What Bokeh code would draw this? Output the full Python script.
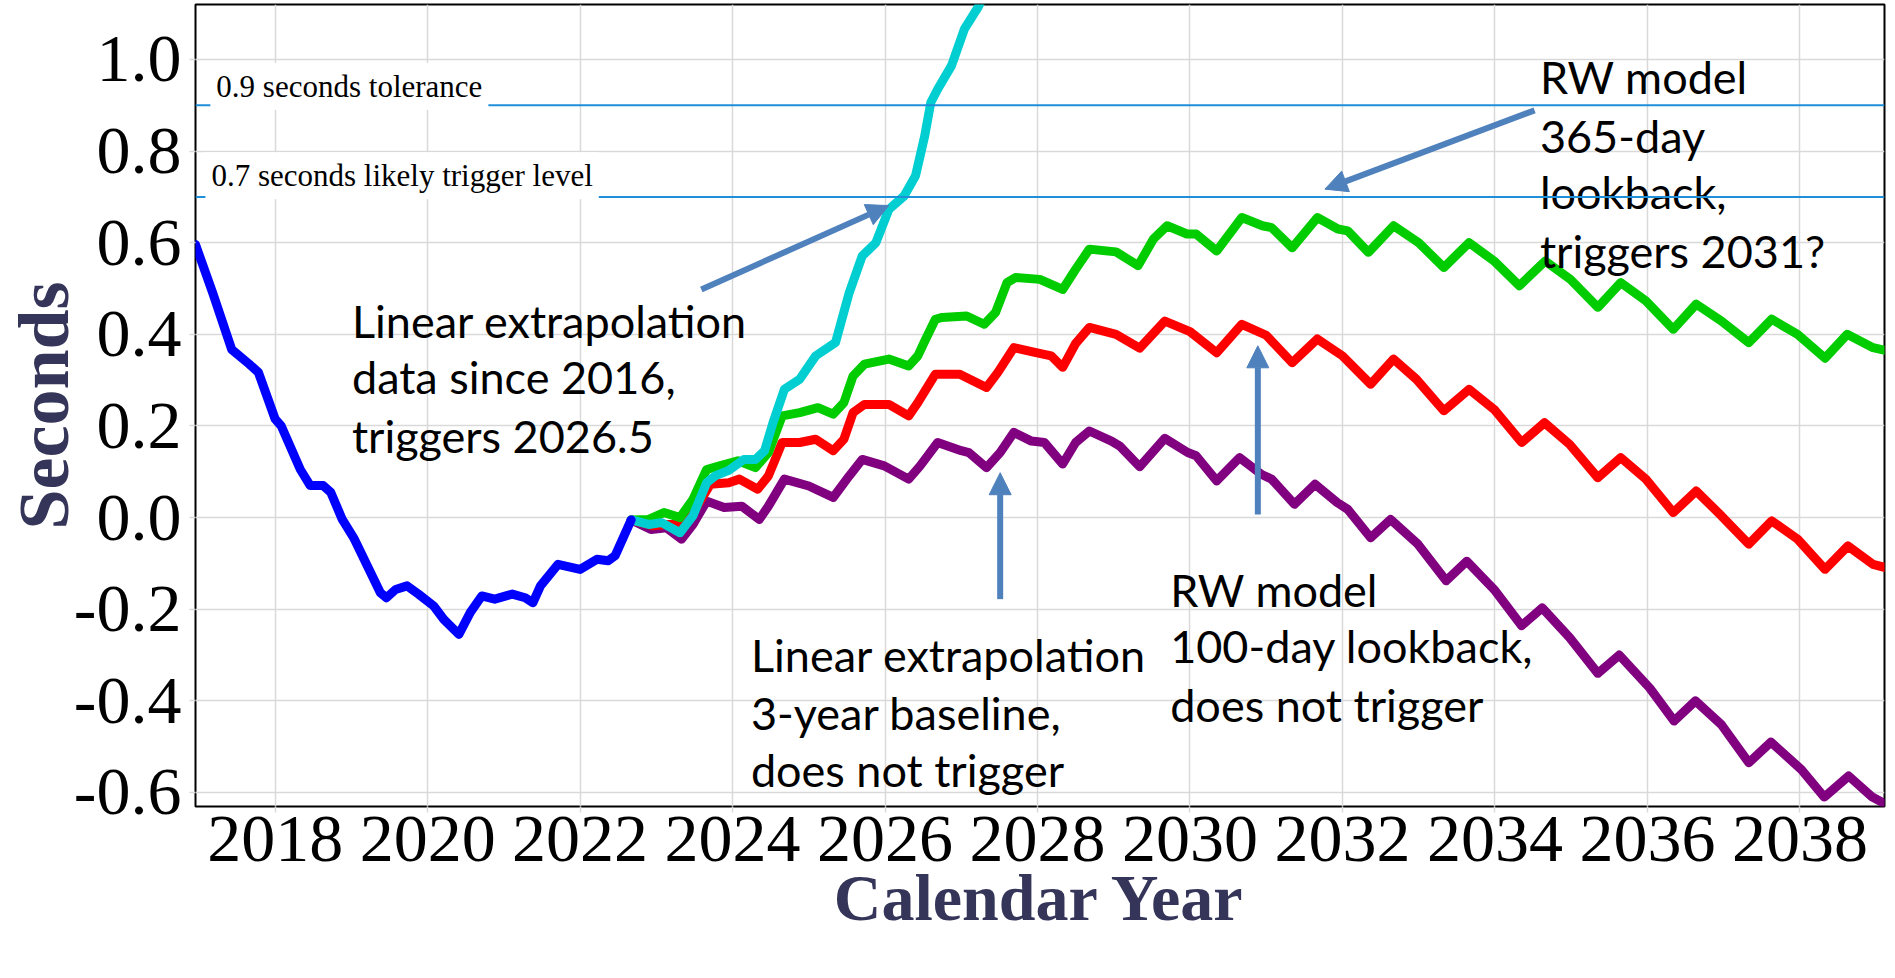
from bokeh.plotting import figure
from bokeh.models import Range1d, FixedTicker, PrintfTickFormatter, Span, Label, Arrow, NormalHead
from bokeh.core.properties import value
from bokeh.embed import file_html
from bokeh.resources import INLINE

# ---------------- data ----------------
obs_x = [2016.955, 2017.18, 2017.43, 2017.66, 2017.78, 2018.0, 2018.08, 2018.33, 2018.46, 2018.63,
         2018.73, 2018.88, 2019.03, 2019.38, 2019.46, 2019.58, 2019.73, 2019.88, 2020.08, 2020.21,
         2020.41, 2020.56, 2020.71, 2020.88, 2021.11, 2021.28, 2021.38, 2021.48, 2021.71, 2022.0,
         2022.22, 2022.37, 2022.46, 2022.67]
obs_y = [0.596, 0.491, 0.367, 0.335, 0.317, 0.215, 0.20, 0.105, 0.07, 0.07,
         0.055, -0.004, -0.044, -0.164, -0.175, -0.157, -0.149, -0.167, -0.193, -0.222,
         -0.255, -0.207, -0.171, -0.178, -0.167, -0.175, -0.186, -0.149, -0.102, -0.113,
         -0.091, -0.094, -0.083, -0.005]

lin16_x = [2022.67, 2022.90, 2023.07, 2023.31, 2023.48, 2023.66, 2023.77, 2023.95, 2024.15, 2024.30,
           2024.42, 2024.53, 2024.68, 2024.88, 2025.09, 2025.35, 2025.53, 2025.70, 2025.88, 2026.05,
           2026.25, 2026.40, 2026.52, 2026.60, 2026.69, 2026.87, 2027.04, 2027.22, 2027.30]
lin16_y = [-0.005, -0.015, -0.011, -0.033, 0.004, 0.076, 0.091, 0.103, 0.127, 0.127,
           0.146, 0.207, 0.28, 0.302, 0.353, 0.382, 0.491, 0.571, 0.600, 0.673,
           0.702, 0.746, 0.833, 0.906, 0.935, 0.986, 1.066, 1.114, 1.14]

rw365_x = [2022.67, 2022.90, 2023.10, 2023.31, 2023.48, 2023.66, 2023.83, 2024.07, 2024.30, 2024.47,
           2024.65, 2024.88, 2025.12, 2025.32, 2025.46, 2025.58, 2025.73, 2026.05, 2026.31, 2026.43,
           2026.52, 2026.66, 2026.75, 2027.07, 2027.30, 2027.45, 2027.60, 2027.71, 2028.03, 2028.33,
           2028.50, 2028.68, 2029.03, 2029.32, 2029.52, 2029.70, 2029.96, 2030.08, 2030.35, 2030.68,
           2030.95, 2031.07, 2031.34, 2031.67, 2031.94, 2032.07, 2032.34, 2032.67, 2033.0, 2033.33,
           2033.66, 2033.99, 2034.32, 2034.66, 2034.99, 2035.35, 2035.65, 2035.98, 2036.34, 2036.64,
           2036.97, 2037.33, 2037.63, 2037.97, 2038.33, 2038.62, 2038.96, 2039.12]
rw365_y = [-0.005, -0.004, 0.011, 0.0, 0.04, 0.105, 0.113, 0.124, 0.109, 0.142,
           0.222, 0.229, 0.24, 0.226, 0.251, 0.309, 0.335, 0.346, 0.331, 0.353,
           0.385, 0.433, 0.437, 0.44, 0.422, 0.448, 0.513, 0.524, 0.520, 0.498,
           0.542, 0.586, 0.580, 0.55, 0.608, 0.637, 0.619, 0.619, 0.582, 0.655,
           0.637, 0.633, 0.589, 0.655, 0.63, 0.626, 0.579, 0.637, 0.60, 0.546,
           0.60, 0.56, 0.506, 0.56, 0.52, 0.459, 0.513, 0.473, 0.411, 0.466,
           0.429, 0.382, 0.433, 0.40, 0.348, 0.40, 0.371, 0.365]

rw100_x = [2022.67, 2022.96, 2023.13, 2023.31, 2023.48, 2023.71, 2023.95, 2024.09, 2024.33, 2024.47,
           2024.65, 2024.88, 2025.09, 2025.32, 2025.46, 2025.58, 2025.73, 2026.05, 2026.31, 2026.43,
           2026.66, 2026.98, 2027.33, 2027.48, 2027.69, 2027.98, 2028.18, 2028.33, 2028.50, 2028.68,
           2029.03, 2029.34, 2029.67, 2030.0, 2030.35, 2030.68, 2031.0, 2031.34, 2031.67, 2032.0,
           2032.37, 2032.67, 2032.97, 2033.33, 2033.66, 2033.99, 2034.35, 2034.65, 2034.98, 2035.35,
           2035.65, 2035.98, 2036.34, 2036.64, 2036.97, 2037.33, 2037.63, 2037.97, 2038.33, 2038.63,
           2038.96, 2039.12]
rw100_y = [-0.005, -0.018, -0.015, -0.015, 0.01, 0.073, 0.076, 0.084, 0.062, 0.091,
           0.164, 0.164, 0.171, 0.146, 0.171, 0.229, 0.247, 0.247, 0.222, 0.251,
           0.313, 0.313, 0.284, 0.317, 0.371, 0.36, 0.353, 0.328, 0.38, 0.415,
           0.40, 0.37, 0.429, 0.406, 0.36, 0.422, 0.398, 0.338, 0.39, 0.353,
           0.291, 0.346, 0.302, 0.233, 0.28, 0.236, 0.164, 0.207, 0.16, 0.087,
           0.131, 0.084, 0.011, 0.058, 0.004, -0.058, -0.007, -0.047, -0.113, -0.062,
           -0.102, -0.109]

lin3_x = [2022.67, 2022.93, 2023.13, 2023.33, 2023.48, 2023.66, 2023.89, 2024.12, 2024.35, 2024.47,
          2024.68, 2025.0, 2025.32, 2025.53, 2025.70, 2025.99, 2026.31, 2026.46, 2026.69, 2027.0,
          2027.10, 2027.33, 2027.51, 2027.69, 2027.92, 2028.09, 2028.33, 2028.50, 2028.68, 2028.97,
          2029.08, 2029.34, 2029.67, 2029.97, 2030.08, 2030.35, 2030.65, 2030.94, 2031.07, 2031.37,
          2031.64, 2031.93, 2032.07, 2032.37, 2032.63, 2032.99, 2033.36, 2033.63, 2033.99, 2034.35,
          2034.62, 2034.98, 2035.35, 2035.63, 2036.03, 2036.35, 2036.63, 2036.97, 2037.33, 2037.62,
          2038.02, 2038.32, 2038.64, 2038.95, 2039.12]
lin3_y = [-0.005, -0.026, -0.022, -0.047, -0.015, 0.036, 0.022, 0.025, -0.004, 0.025,
          0.084, 0.069, 0.044, 0.091, 0.127, 0.113, 0.084, 0.113, 0.164, 0.146,
          0.142, 0.109, 0.142, 0.186, 0.167, 0.164, 0.117, 0.164, 0.189, 0.167,
          0.156, 0.111, 0.173, 0.142, 0.135, 0.080, 0.131, 0.094, 0.084, 0.029,
          0.073, 0.033, 0.018, -0.044, -0.004, -0.058, -0.138, -0.095, -0.157, -0.236,
          -0.197, -0.262, -0.34, -0.300, -0.372, -0.444, -0.40, -0.452, -0.535, -0.49,
          -0.55, -0.61, -0.564, -0.61, -0.625]

x_ticks = [2018, 2020, 2022, 2024, 2026, 2028, 2030, 2032, 2034, 2036, 2038]
y_ticks = [-0.6, -0.4, -0.2, 0.0, 0.2, 0.4, 0.6, 0.8, 1.0]

thresholds = [0.9, 0.7]
threshold_texts = ["0.9 seconds tolerance", "0.7 seconds likely trigger level"]
threshold_text_x = [2017.15, 2017.085]
threshold_text_y = [0.941, 0.746]

note_texts = ["Linear extrapolation", "data since 2016,", "triggers 2026.5",
              "Linear extrapolation", "3-year baseline,", "does not trigger",
              "RW model", "100-day lookback,", "does not trigger",
              "RW model", "365-day", "lookback,", "triggers 2031?"]
note_x = [2019.007] * 3 + [2024.24] * 3 + [2029.74] * 3 + [2034.59] * 4
note_y = [0.430, 0.306, 0.179,
          -0.299, -0.426, -0.552,
          -0.157, -0.280, -0.408,
          0.961, 0.833, 0.71, 0.582]

arrow_x0 = [2023.59, 2034.52, 2027.51, 2030.89]
arrow_y0 = [0.498, 0.889, -0.178, 0.007]
arrow_x1 = [2026.05, 2031.77, 2027.51, 2030.89]
arrow_y1 = [0.681, 0.717, 0.098, 0.375]

x_title = "Calendar Year"
y_title = "Seconds"

# ---------------- figure ----------------
p = figure(width=1887, height=962,
           x_range=Range1d(2016.955, 2039.11), y_range=Range1d(-0.6306, 1.12),
           output_backend="svg", toolbar_location=None,
           min_border_left=189, min_border_right=3, min_border_top=4, min_border_bottom=156,
           x_axis_label=x_title, y_axis_label=y_title)
p.background_fill_color = "white"
p.border_fill_color = "white"
p.outline_line_color = "black"
p.outline_line_width = 2

grid_c = "#d9d9d9"
p.grid.grid_line_color = grid_c
p.grid.grid_line_width = 1.5

title_c = "#35355a"
p.xaxis.ticker = FixedTicker(ticks=x_ticks)
p.yaxis.ticker = FixedTicker(ticks=y_ticks)
p.xaxis.formatter = PrintfTickFormatter(format="%d")
p.yaxis.formatter = PrintfTickFormatter(format="%.1f")
for ax in (p.xaxis, p.yaxis):
    ax.axis_line_color = None
    ax.major_tick_line_color = grid_c
    ax.major_tick_line_width = 1.5
    ax.major_tick_out = 6
    ax.major_tick_in = 0
    ax.minor_tick_line_color = None
    ax.major_label_text_font = "Liberation Serif"
    ax.major_label_text_font_size = "68px"
    ax.major_label_text_color = "black"
    ax.axis_label_text_font = "Liberation Serif"
    ax.axis_label_text_font_style = "bold"
    ax.axis_label_text_color = title_c
p.xaxis.axis_label_text_font_size = "66px"
p.yaxis.axis_label_text_font_size = "72px"
p.yaxis.major_label_standoff = 8
p.yaxis.axis_label_standoff = -13
p.xaxis.major_label_standoff = 4
p.xaxis.axis_label_standoff = -3

for t in thresholds:
    p.add_layout(Span(location=t, dimension="width", line_color="#1E8FD8", line_width=2))

for txt, tx, ty in zip(threshold_texts, threshold_text_x, threshold_text_y):
    p.add_layout(Label(x=tx, y=ty, text=txt, text_font="Liberation Serif", text_font_size="31px",
                       text_color="black", text_baseline="alphabetic", text_align="left",
                       background_fill_color="white", padding=6))

series = [
    (lin3_x, lin3_y, "#800080"),
    (rw100_x, rw100_y, "#FF0000"),
    (rw365_x, rw365_y, "#00CC00"),
    (lin16_x, lin16_y, "#00CED1"),
    (obs_x, obs_y, "#0000FF"),
]
for xs, ys, c in series:
    p.line(xs, ys, line_color=c, line_width=9, line_join="round", line_cap="round")

p.text(x=note_x, y=note_y, text=note_texts, text_font=value("Lato"), text_font_size="45px",
       text_color="black", text_baseline="alphabetic", text_align="left")

arrow_c = "#4F81BD"
for x0, y0, x1, y1 in zip(arrow_x0, arrow_y0, arrow_x1, arrow_y1):
    p.add_layout(Arrow(end=NormalHead(size=22, fill_color=arrow_c, line_color=arrow_c),
                       x_start=x0, y_start=y0, x_end=x1, y_end=y1,
                       line_color=arrow_c, line_width=6))

open("out.html", "w").write(file_html(p, INLINE))
